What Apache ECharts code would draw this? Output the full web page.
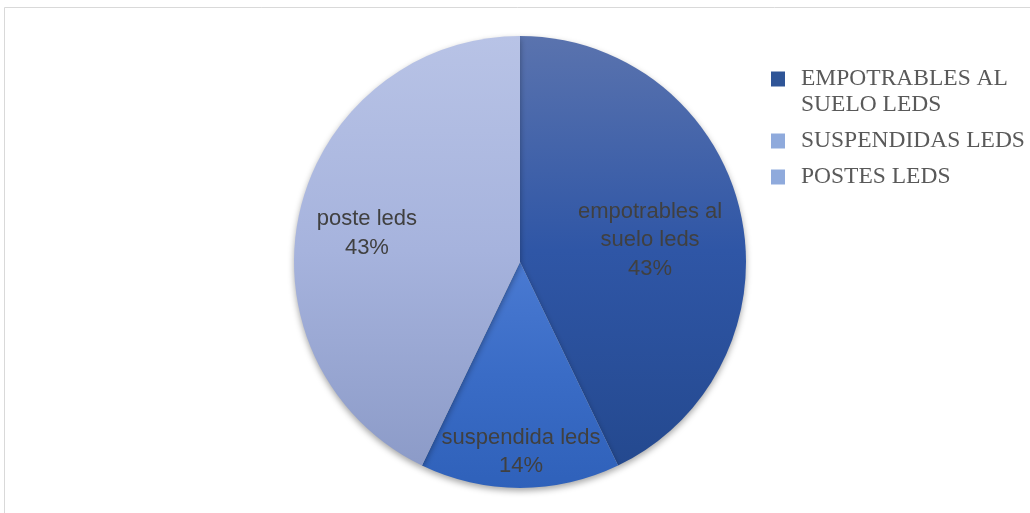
<!DOCTYPE html>
<html>
<head>
<meta charset="utf-8">
<script src="https://cdn.jsdelivr.net/npm/echarts@6/dist/echarts.min.js"></script>
<style>
html,body{margin:0;padding:0;background:#fff;}
#chart{width:1030px;height:513px;}
</style>
</head>
<body>
<div id="chart"></div>
<script>
const categories = ['empotrables al\nsuelo leds', 'suspendida leds', 'poste leds'];
const legendNames = ['EMPOTRABLES AL\nSUELO LEDS', 'SUSPENDIDAS LEDS', 'POSTES LEDS'];
const values = [3, 1, 3];

const sliceColors = [
  ['#5a73ae', '#2f56a6', '#24498f'],
  ['#4a7ad2', '#3a6cc6', '#2f61ba'],
  ['#b8c3e6', '#a6b3dd', '#8c9bc8']
];
const legendColors = ['#2f5597', '#8faadc', '#8faadc'];
const labelOffsets = [[17, 4], [1, 74], [-40, -3]];

function grad(c) {
  return new echarts.graphic.LinearGradient(0, 0, 0, 1, [
    { offset: 0, color: c[0] },
    { offset: 0.5, color: c[1] },
    { offset: 1, color: c[2] }
  ]);
}

const chart = echarts.init(document.getElementById('chart'), null, { renderer: 'canvas' });

const data = values.map((v, i) => ({
  name: legendNames[i],
  value: v,
  itemStyle: { color: grad(sliceColors[i]) },
  label: { offset: labelOffsets[i] }
}));

chart.setOption({
  animation: false,
  backgroundColor: '#ffffff',
  graphic: [{
    type: 'rect',
    shape: { x: 4.5, y: 7.5, width: 1100, height: 600 },
    style: { fill: 'none', stroke: '#d9d9d9', lineWidth: 1 },
    silent: true
  }],
  legend: {
    orient: 'vertical',
    left: 771,
    top: 40,
    padding: 0,
    itemWidth: 14,
    itemHeight: 15,
    itemGap: 10,
    icon: 'rect',
    formatter: function (name) {
      return name.indexOf('\n') >= 0 ? '\n' + name : name;
    },
    textStyle: {
      fontFamily: '"Liberation Serif", "DejaVu Serif", serif',
      fontSize: 23.5,
      color: '#595959',
      lineHeight: 26,
      padding: [0, 0, 0, 11]
    },
    data: legendNames.map((n, i) => ({
      name: n,
      itemStyle: { color: legendColors[i] }
    }))
  },
  series: [{
    type: 'pie',
    center: [520, 262],
    radius: 226,
    startAngle: 90,
    clockwise: true,
    avoidLabelOverlap: false,
    itemStyle: {
      shadowBlur: 6,
      shadowOffsetY: 3,
      shadowColor: 'rgba(0,0,0,0.35)'
    },
    label: {
      show: true,
      position: 'inside',
      fontFamily: '"Liberation Sans", Arial, sans-serif',
      fontSize: 22,
      lineHeight: 28.5,
      color: '#404040',
      formatter: function (p) {
        return categories[p.dataIndex] + '\n' + Math.round(p.percent) + '%';
      }
    },
    labelLine: { show: false },
    emphasis: { disabled: true },
    data: data
  }]
});
</script>
</body>
</html>
